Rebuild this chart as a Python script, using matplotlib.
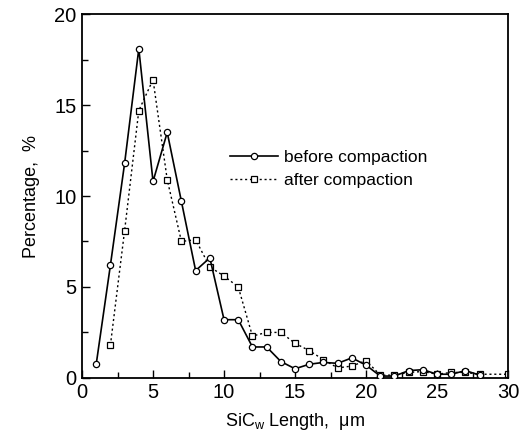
import matplotlib
matplotlib.use("Agg")
import matplotlib.pyplot as plt

plt.rcParams["font.family"] = ["Liberation Sans", "DejaVu Sans"]
plt.rcParams["mathtext.default"] = "regular"

# SiC whisker length distribution
x_before = [1, 2, 3, 4, 5, 6, 7, 8, 9, 10, 11, 12, 13, 14, 15, 16, 17, 18, 19, 20,
            21, 22, 23, 24, 25, 26, 27, 28]
y_before = [0.75, 6.2, 11.8, 18.1, 10.8, 13.5, 9.7, 5.9, 6.6, 3.2, 3.2, 1.7, 1.7, 0.9,
            0.5, 0.75, 0.85, 0.8, 1.1, 0.7, 0.1, 0.1, 0.4, 0.45, 0.2, 0.2, 0.4, 0.15]

x_after = [2, 3, 4, 5, 6, 7, 8, 9, 10, 11, 12, 13, 14, 15, 16, 17, 18, 19, 20,
           21, 22, 23, 24, 25, 26, 27, 28, 30]
y_after = [1.8, 8.1, 14.7, 16.4, 10.9, 7.5, 7.6, 6.1, 5.6, 5.0, 2.3, 2.5, 2.5, 1.9,
           1.5, 1.0, 0.55, 0.65, 0.95, 0.15, 0.15, 0.3, 0.35, 0.2, 0.3, 0.3, 0.2, 0.2]

fig = plt.figure(figsize=(5.19, 4.43), dpi=100)
ax = fig.add_axes([0.158, 0.147, 0.821, 0.821])

ax.plot(x_before, y_before, color="black", lw=1.2, marker="o", ms=4.5,
        mfc="white", mec="black", mew=0.9, label="before compaction", zorder=3)
ax.plot(x_after, y_after, color="black", lw=1.0, ls=(0, (1.5, 2)), marker="s", ms=5,
        mfc="white", mec="black", mew=0.9, label="after compaction", zorder=2)

ax.set_xlim(0, 30)
ax.set_ylim(0, 20)
ax.set_xticks([0, 5, 10, 15, 20, 25, 30])
ax.set_yticks([0, 5, 10, 15, 20])
ax.set_xticks([2.5, 7.5, 12.5, 17.5, 22.5, 27.5], minor=True)
ax.set_yticks([2.5, 7.5, 12.5, 17.5], minor=True)
ax.tick_params(which="both", direction="in", top=False, right=False, labelsize=14.5)
ax.tick_params(which="major", length=6, width=1, pad=4)
ax.tick_params(which="minor", length=4, width=1)
for s in ax.spines.values():
    s.set_linewidth(1.3)

ax.set_xlabel("SiC$_w$ Length,  \u03bcm", fontsize=13, labelpad=6)
ax.set_ylabel("Percentage,  %", fontsize=13, labelpad=10)

ax.legend(loc="upper left", bbox_to_anchor=(0.31, 0.67), frameon=False,
          fontsize=12.5, handlelength=2.8, handletextpad=0.3, labelspacing=0.45)

fig.savefig("out.png", dpi=100)
